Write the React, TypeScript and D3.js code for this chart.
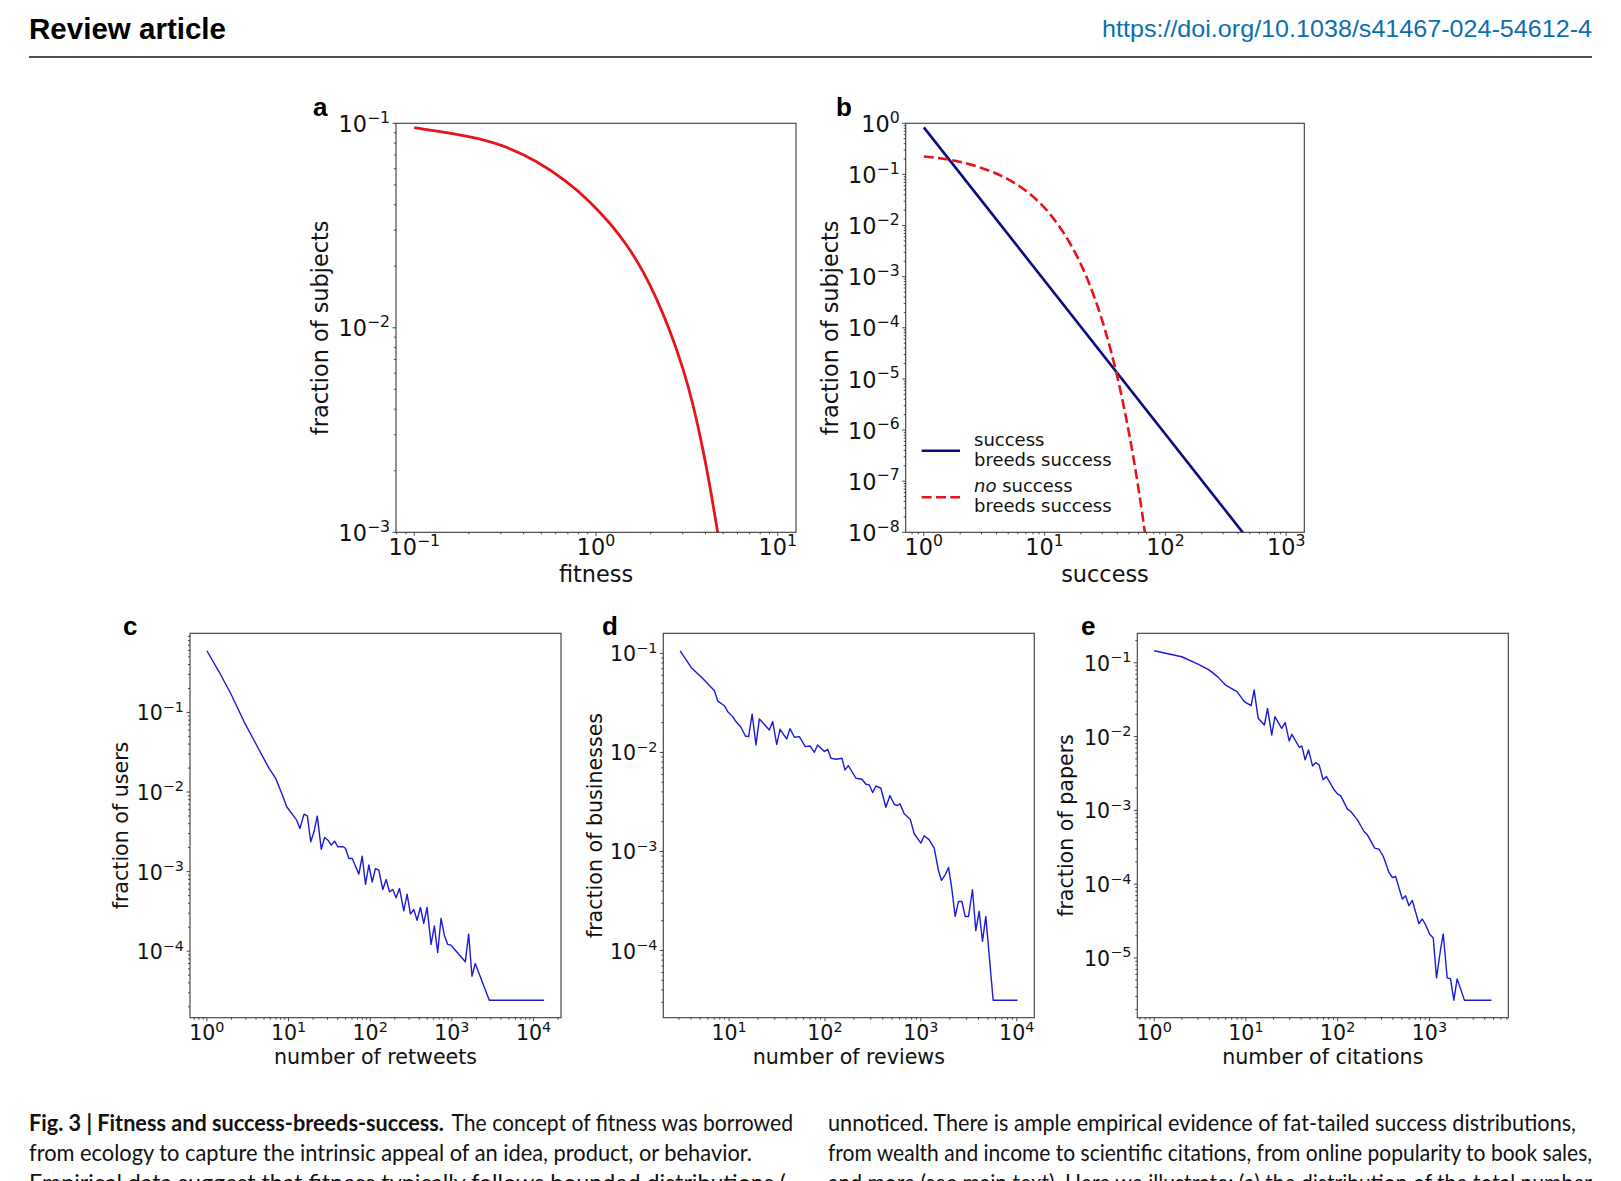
import { useEffect, useRef } from 'react'
import * as d3 from 'd3'

// a: fitness distribution
const fitnessX = [0.1, 0.2027, 0.309, 0.4717, 0.69, 0.927, 1.194, 1.475, 1.821, 2.157, 2.553, 3.022, 3.43, 3.894, 4.236, 4.67, 5.0]
const fitnessY = [0.0952, 0.0867, 0.0783, 0.0656, 0.0522, 0.0415, 0.0325, 0.0256, 0.0189, 0.0139, 0.0097, 0.0063, 0.0042, 0.0025, 0.00168, 0.001, 0.00068]
const fitnessXLim = [0.0794, 12.59]
const fitnessYLim = [1e-3, 1e-1]

// b: success with / without success-breeds-success
const bssX = [1, 1000]
const bssY = [0.834, 8.3e-10]
const noBssX = [1, 1.7, 3, 5, 7, 9, 11, 13, 16, 20, 25, 30, 35, 40, 45, 50, 55, 60, 65, 70]
const noBssY = [0.224, 0.19, 0.134, 0.08, 0.0478, 0.0286, 0.0171, 0.0102, 0.00477, 0.00174, 4.9e-4, 1.38e-4, 3.9e-5, 1.1e-5, 3.1e-6, 8.7e-7, 2.45e-7, 6.9e-8, 1.95e-8, 5.5e-9]
const successXLim = [0.708, 1413]
const successYLim = [1e-8, 1]
const legendLines = [['success', 'breeds success'], ['no success', 'breeds success']]

// c: retweets
const retweetsX = [1, 1.41, 1.96, 2.86, 4.16, 5.78, 6.97, 8.41, 9.5, 12.6, 13.8, 15.5, 17, 18.7, 20.5, 22.5, 25.2, 27.7, 30.4, 33.4, 36.6, 40.3, 46.8, 50, 54.9, 60.3, 72.7, 79.9, 87.7, 96.3, 105.8, 116, 127.6, 142.8, 156.9, 172.3, 189.2, 207.9, 228.4, 257.9, 283.3, 311.2, 341.8, 375, 412, 453, 497.4, 556.7, 611, 671, 737.6, 810, 889, 977, 1463, 1607, 1765, 1938, 2873, 13500]
const retweetsY = [0.595, 0.324, 0.173, 0.0762, 0.037, 0.0198, 0.0148, 0.00914, 0.00652, 0.00443, 0.00348, 0.00527, 0.00502, 0.00237, 0.00316, 0.00498, 0.0019, 0.00268, 0.00248, 0.00215, 0.00241, 0.00205, 0.00205, 0.00195, 0.00146, 0.00146, 0.00093, 0.00156, 0.00069, 0.00121, 0.00074, 0.00109, 0.00104, 0.000596, 0.000796, 0.000557, 0.000596, 0.000468, 0.000614, 0.000321, 0.00052, 0.000292, 0.000334, 0.000245, 0.000354, 0.000223, 0.000354, 0.000122, 0.000208, 9.62e-5, 0.000258, 0.000159, 0.000122, 0.000119, 7.35e-5, 0.000164, 4.85e-5, 7.0e-5, 2.42e-5, 2.42e-5]

// d: reviews
const reviewsX = [3.09, 4.02, 5.32, 7.04, 7.62, 8.95, 9.69, 10.9, 11.8, 13.3, 14.8, 16.0, 17.4, 19.1, 20.7, 26.3, 28.5, 31.4, 34.0, 39.9, 43.2, 48.0, 54.1, 62.4, 69.8, 77.5, 83.9, 98.5, 106.7, 115.6, 130.3, 150.4, 161.7, 175.2, 210.5, 243, 267.6, 290, 314, 340, 383, 432, 476, 528, 572, 605, 671, 775, 853, 1001, 1084, 1222, 1378, 1529, 1643, 1794, 1943, 2088, 2280, 2470, 2676, 2899, 3140, 3455, 3743, 4055, 4393, 4758, 5674, 10170]
const reviewsY = [0.1063, 0.0722, 0.0559, 0.042, 0.033, 0.0296, 0.0258, 0.023, 0.0205, 0.01795, 0.01466, 0.01443, 0.0244, 0.0119, 0.0218, 0.01687, 0.0205, 0.01209, 0.01713, 0.01368, 0.01739, 0.01422, 0.01443, 0.01145, 0.01163, 0.01004, 0.0119, 0.0102, 0.01076, 0.00873, 0.00853, 0.00873, 0.00666, 0.00736, 0.00549, 0.00536, 0.00478, 0.0047, 0.00394, 0.00459, 0.00435, 0.0028, 0.00367, 0.003, 0.00291, 0.00303, 0.0024, 0.00212, 0.00151, 0.001215, 0.00144, 0.00131, 0.00108, 0.000639, 0.00051, 0.000582, 0.00069, 0.000444, 0.000221, 0.000313, 0.000313, 0.000221, 0.000221, 0.000411, 0.000159, 0.000249, 0.000124, 0.000221, 3.15e-5, 3.15e-5]

// e: citations
const citationsX = [1, 2, 3, 4, 5, 6, 8, 9.6, 11.4, 12.3, 13.6, 15.9, 17.2, 19.1, 20.7, 24.5, 26.8, 29.6, 31.7, 38.1, 40.7, 44.2, 48.1, 53.2, 57.8, 62.8, 69.4, 75.5, 91.5, 99.4, 108, 127.7, 138.8, 164, 193.8, 210.7, 253.2, 282.2, 314.6, 362.5, 393.9, 428.2, 505.9, 550, 598, 650, 768, 835, 907.5, 1011, 1100, 1195, 1321, 1413, 1561, 1697, 1845, 2005, 2409, 4739]
const citationsY = [0.1455, 0.1207, 0.096, 0.0796, 0.0634, 0.0499, 0.0406, 0.0297, 0.0262, 0.0427, 0.01767, 0.01435, 0.0241, 0.0105, 0.0186, 0.01294, 0.01543, 0.00872, 0.01073, 0.00716, 0.00746, 0.00483, 0.00659, 0.004, 0.00444, 0.00413, 0.00259, 0.00287, 0.0019, 0.00167, 0.00157, 0.00104, 0.000964, 0.000744, 0.000517, 0.000466, 0.000308, 0.000298, 0.000237, 0.000144, 0.000123, 0.000127, 6.28e-5, 6.97e-5, 5.1e-5, 6.02e-5, 2.91e-5, 3.37e-5, 2.82e-5, 2.07e-5, 1.86e-5, 5.36e-6, 1.3e-5, 2.11e-5, 5.36e-6, 5.2e-6, 2.67e-6, 5.2e-6, 2.67e-6, 2.67e-6]

const captionLeft = [
  'The concept of fitness was borrowed',
  'from ecology to capture the intrinsic appeal of an idea, product, or behavior.',
  'Empirical data suggest that fitness typically follows bounded distributions (',
]
const captionRight = [
  'unnoticed. There is ample empirical evidence of fat-tailed success distributions,',
  'from wealth and income to scientific citations, from online popularity to book sales,',
  'and more (see main text). Here we illustrate: (a) the distribution of the total number',
]

const RED = '#e8141c'
const NAVY = '#0a0a80'
const BLUE = '#1a1ad8'
const FONT = 'DejaVu Sans, sans-serif'

// matplotlib-like autoscale: 5% margin in log space
const padLog = (v) => {
  const [a, b] = d3.extent(v).map(Math.log10)
  const m = (b - a) * 0.05
  return [10 ** (a - m), 10 ** (b + m)]
}

const expText = (k) => (k < 0 ? '\u2212' + Math.abs(k) : String(k))

const powerLabel = (g, x, y, k, fs, anchor) => {
  const t = g.append('text')
    .attr('x', x).attr('y', y)
    .attr('text-anchor', anchor)
    .style('font-family', FONT)
    .style('font-size', fs + 'px')
    .attr('fill', '#111')
  t.append('tspan').text('10')
  t.append('tspan').attr('dy', -0.42 * fs).style('font-size', (0.7 * fs) + 'px').text(expText(k))
}

const drawPanel = (svg, p) => {
  const g = svg.append('g')
  const right = p.left + p.width
  const bottom = p.top + p.height
  const x = d3.scaleLog().domain(p.xDomain).range([p.left, right])
  const y = d3.scaleLog().domain(p.yDomain).range([bottom, p.top])

  const clipId = 'clip-' + p.id
  svg.append('clipPath').attr('id', clipId)
    .append('rect').attr('x', p.left).attr('y', p.top).attr('width', p.width).attr('height', p.height)

  p.series.forEach((s) => {
    const line = d3.line()
      .x((d) => x(d[0]))
      .y((d) => y(d[1]))
      .curve(s.curve || d3.curveLinear)
    g.append('path')
      .datum(d3.zip(s.x, s.y))
      .attr('d', line)
      .attr('fill', 'none')
      .attr('stroke', s.color)
      .attr('stroke-width', s.width)
      .attr('stroke-dasharray', s.dash || null)
      .attr('stroke-linejoin', 'round')
      .attr('clip-path', `url(#${clipId})`)
  })

  g.append('rect')
    .attr('x', p.left).attr('y', p.top).attr('width', p.width).attr('height', p.height)
    .attr('fill', 'none').attr('stroke', '#3a3a3a').attr('stroke-width', 1.1)

  const ticks = (dom) => {
    const lo = Math.log10(dom[0])
    const hi = Math.log10(dom[1])
    const major = d3.range(Math.ceil(lo - 1e-9), Math.floor(hi + 1e-9) + 1)
    const minor = []
    d3.range(Math.floor(lo), Math.floor(hi) + 1).forEach((k) => {
      for (let m = 2; m < 10; m++) {
        const l = Math.log10(m) + k
        if (l > lo && l < hi) minor.push(m * 10 ** k)
      }
    })
    return { major, minor }
  }

  const tx = ticks(p.xDomain)
  const ty = ticks(p.yDomain)
  const tick = (x1, y1, x2, y2) => g.append('line')
    .attr('x1', x1).attr('y1', y1).attr('x2', x2).attr('y2', y2)
    .attr('stroke', '#333').attr('stroke-width', 0.9)

  tx.minor.forEach((v) => tick(x(v), bottom, x(v), bottom + 2))
  ty.minor.forEach((v) => tick(p.left, y(v), p.left - 2, y(v)))
  tx.major.forEach((k) => {
    tick(x(10 ** k), bottom, x(10 ** k), bottom + 3.5)
    powerLabel(g, x(10 ** k), bottom + p.xTickOffset, k, p.tickFs, 'middle')
  })
  ty.major.forEach((k) => {
    tick(p.left, y(10 ** k), p.left - 3.5, y(10 ** k))
    powerLabel(g, p.left - 6, y(10 ** k) + 0.365 * p.tickFs + 0.5, k, p.tickFs, 'end')
  })

  g.append('text')
    .attr('x', (p.left + right) / 2).attr('y', p.xLabelY)
    .attr('text-anchor', 'middle')
    .style('font-family', FONT).style('font-size', p.labelFs + 'px')
    .attr('fill', '#111')
    .text(p.xLabel)

  g.append('text')
    .attr('transform', `translate(${p.yLabelX},${(p.top + bottom) / 2}) rotate(-90)`)
    .attr('text-anchor', 'middle')
    .style('font-family', FONT).style('font-size', p.labelFs + 'px')
    .attr('fill', '#111')
    .text(p.yLabel)

  g.append('text')
    .attr('x', p.letterPos[0]).attr('y', p.letterPos[1])
    .style('font-family', 'Liberation Sans, Arial, sans-serif')
    .style('font-size', '26px').style('font-weight', 'bold')
    .text(p.id)

  return { x, y, g }
}

const App = () => {
  const ref = useRef()

  useEffect(() => {
    const svg = d3.select(ref.current)
    svg.selectAll('*').remove()

    // header
    svg.append('text').attr('x', 29).attr('y', 38.5)
      .style('font-family', 'Liberation Sans, Arial, sans-serif')
      .style('font-size', '30px').style('font-weight', 'bold')
      .attr('textLength', 197).attr('lengthAdjust', 'spacingAndGlyphs')
      .text('Review article')
    svg.append('text').attr('x', 1592).attr('y', 37).attr('text-anchor', 'end')
      .style('font-family', 'Liberation Sans, Arial, sans-serif')
      .style('font-size', '24px').attr('fill', '#0c6fae')
      .attr('textLength', 490).attr('lengthAdjust', 'spacingAndGlyphs')
      .text('https://doi.org/10.1038/s41467-024-54612-4')
    svg.append('line').attr('x1', 29).attr('x2', 1592).attr('y1', 57).attr('y2', 57)
      .attr('stroke', '#111').attr('stroke-width', 1.6)

    const top = { top: 123.3, height: 409, tickFs: 22.4, labelFs: 22.4, xTickOffset: 22.7, xLabelY: 581.5 }
    const low = { top: 633.3, height: 384.4, width: 371, tickFs: 20.5, labelFs: 20.6, xTickOffset: 22.5, xLabelY: 1064 }

    drawPanel(svg, {
      ...top, id: 'a', left: 396, width: 400, letterPos: [313, 116],
      xDomain: fitnessXLim, yDomain: fitnessYLim,
      xLabel: 'fitness', yLabel: 'fraction of subjects', yLabelX: 328,
      series: [{ x: fitnessX, y: fitnessY, color: RED, width: 2.8, curve: d3.curveBasis }],
    })

    const b = drawPanel(svg, {
      ...top, id: 'b', left: 905.7, width: 398.6, letterPos: [836, 116],
      xDomain: successXLim, yDomain: successYLim,
      xLabel: 'success', yLabel: 'fraction of subjects', yLabelX: 837.5,
      series: [
        { x: bssX, y: bssY, color: NAVY, width: 2.6 },
        { x: noBssX, y: noBssY, color: RED, width: 2.6, curve: d3.curveMonotoneX, dash: '10,4.3' },
      ],
    })

    // legend in b
    const leg = b.g.append('g')
    const entries = [
      { color: NAVY, dash: null, lineY: 450.7, baselines: [446, 466] },
      { color: RED, dash: '10,4.3', lineY: 497.3, baselines: [491.7, 512.2] },
    ]
    entries.forEach((e, i) => {
      leg.append('line').attr('x1', 921.7).attr('x2', 960).attr('y1', e.lineY).attr('y2', e.lineY)
        .attr('stroke', e.color).attr('stroke-width', 2.6).attr('stroke-dasharray', e.dash)
      legendLines[i].forEach((txt, j) => {
        const t = leg.append('text').attr('x', 974).attr('y', e.baselines[j])
          .style('font-family', FONT).style('font-size', '18px').attr('fill', '#111')
        if (i === 1 && j === 0) {
          t.append('tspan').style('font-style', 'italic').text('no')
          t.append('tspan').text(txt.slice(2))
        } else {
          t.text(txt)
        }
      })
    })

    drawPanel(svg, {
      ...low, id: 'c', left: 190, letterPos: [123, 635],
      xDomain: padLog(retweetsX), yDomain: padLog(retweetsY),
      xLabel: 'number of retweets', yLabel: 'fraction of users', yLabelX: 128,
      series: [{ x: retweetsX, y: retweetsY, color: BLUE, width: 1.4 }],
    })
    drawPanel(svg, {
      ...low, id: 'd', left: 663.3, letterPos: [602, 635],
      xDomain: padLog(reviewsX), yDomain: padLog(reviewsY),
      xLabel: 'number of reviews', yLabel: 'fraction of businesses', yLabelX: 602,
      series: [{ x: reviewsX, y: reviewsY, color: BLUE, width: 1.4 }],
    })
    drawPanel(svg, {
      ...low, id: 'e', left: 1137.3, letterPos: [1081, 635],
      xDomain: padLog(citationsX), yDomain: padLog(citationsY),
      xLabel: 'number of citations', yLabel: 'fraction of papers', yLabelX: 1072.5,
      series: [{ x: citationsX, y: citationsY, color: BLUE, width: 1.4 }],
    })

    // caption
    const cap = svg.append('g').style('font-family', 'Lato, Open Sans, sans-serif').style('font-size', '23px').attr('fill', '#111')
    cap.append('text').attr('x', 29).attr('y', 1131).style('font-weight', 'bold')
      .attr('textLength', 415).attr('lengthAdjust', 'spacingAndGlyphs')
      .text('Fig. 3 | Fitness and success-breeds-success.')
    const leftEnds = [793, 752, 786]
    const rightEnds = [1576, 1592, 1592]
    captionLeft.forEach((txt, i) => {
      const x0 = i === 0 ? 451.5 : 29
      cap.append('text').attr('x', x0).attr('y', 1131 + i * 30)
        .attr('textLength', leftEnds[i] - x0).attr('lengthAdjust', 'spacingAndGlyphs')
        .text(txt)
    })
    captionRight.forEach((txt, i) => {
      cap.append('text').attr('x', 828).attr('y', 1131 + i * 30)
        .attr('textLength', rightEnds[i] - 828).attr('lengthAdjust', 'spacingAndGlyphs')
        .text(txt)
    })
  }, [])

  return (
    <svg
      ref={ref}
      width={1621}
      height={1181}
      style={{ position: 'absolute', left: 0, top: 0, background: '#fff', display: 'block' }}
    />
  )
}

export default App
